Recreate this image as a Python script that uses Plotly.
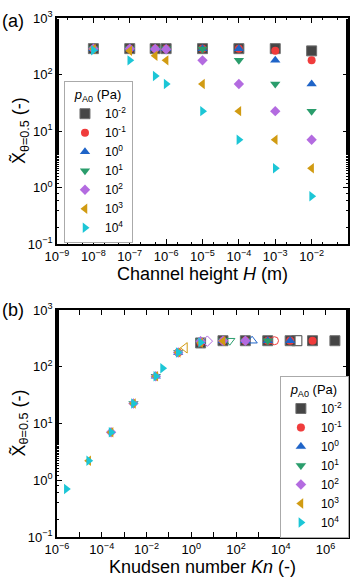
import plotly.graph_objects as go

# ---------------- data ----------------
H_m = [1e-8, 1e-7, 5e-7, 1e-6, 1e-5, 1e-4, 1e-3, 1e-2]

p_labels = ["10<sup>-2</sup>", "10<sup>-1</sup>", "10<sup>0</sup>", "10<sup>1</sup>",
            "10<sup>2</sup>", "10<sup>3</sup>", "10<sup>4</sup>"]

# X~ theta=0.5 for each pressure (same H order)
x_p1e_2 = [287, 287, 287, 287, 287, 287, 287, 262]
x_p1e_1 = [287, 287, 287, 287, 287, 287, 264, 178]
x_p1e0 = [287, 287, 287, 287, 287, 285, 178, 68]
x_p1e1 = [287, 287, 287, 287, 283, 178, 68, 22.5]
x_p1e2 = [287, 287, 282, 280, 178, 68, 22.5, 7.0]
x_p1e3 = [284, 264, 215, 178, 68, 22.5, 7.0, 2.2]
x_p1e4 = [268, 178, 94, 68, 22.5, 7.0, 2.2, 0.70]

# Knudsen number for each pressure (same H order)
kn_p1e_2 = [2.6e6, 2.6e5, 5.2e4, 2.6e4, 2.6e3, 2.6e2, 2.6e1, 2.6]
kn_p1e_1 = [2.6e5, 2.6e4, 5.2e3, 2.6e3, 2.6e2, 2.6e1, 2.6, 2.6e-1]
kn_p1e0 = [2.6e4, 2.6e3, 5.2e2, 2.6e2, 2.6e1, 2.6, 2.6e-1, 2.6e-2]
kn_p1e1 = [2.6e3, 2.6e2, 5.2e1, 2.6e1, 2.6, 2.6e-1, 2.6e-2, 2.6e-3]
kn_p1e2 = [2.6e2, 2.6e1, 5.2, 2.6, 2.6e-1, 2.6e-2, 2.6e-3, 2.6e-4]
kn_p1e3 = [2.6e1, 2.6, 5.2e-1, 2.6e-1, 2.6e-2, 2.6e-3, 2.6e-4, 2.6e-5]
kn_p1e4 = [2.6, 2.6e-1, 5.2e-2, 2.6e-2, 2.6e-3, 2.6e-4, 2.6e-5, 2.6e-6]

x_series = [x_p1e_2, x_p1e_1, x_p1e0, x_p1e1, x_p1e2, x_p1e3, x_p1e4]
kn_series = [kn_p1e_2, kn_p1e_1, kn_p1e0, kn_p1e1, kn_p1e2, kn_p1e3, kn_p1e4]

# ---------------- styles ----------------
colors = ["#454545", "#f03c3c", "#1f64c8", "#2a9d6c", "#b36be0", "#d19b12", "#1cc6d6"]
symbols = ["square", "circle", "triangle-up", "triangle-down", "diamond",
           "triangle-left", "triangle-right"]
sizes = [10, 8, 9, 9, 8, 9, 9]
line_cols = ["#707070", None, None, None, None, None, None]

FONT = "Liberation Sans, Arial, sans-serif"
fig = go.Figure()

for i in range(7):
    lw = 1 if line_cols[i] else 0
    lc = line_cols[i] if line_cols[i] else colors[i]
    fig.add_trace(go.Scatter(
        x=H_m, y=x_series[i], mode="markers", name=p_labels[i],
        marker=dict(symbol=symbols[i], color=colors[i], size=sizes[i],
                    line=dict(width=lw, color=lc)),
        xaxis="x", yaxis="y", legend="legend"))

for i in range(7):
    syms = []
    for h in H_m:
        if h == 5e-7 and i != 6:
            syms.append(symbols[i] + "-open")
        else:
            syms.append(symbols[i])
    lw = [1 if s.endswith("-open") else (1 if line_cols[i] else 0) for s in syms]
    lc = line_cols[i] if line_cols[i] else colors[i]
    fig.add_trace(go.Scatter(
        x=kn_series[i], y=x_series[i], mode="markers", name=p_labels[i],
        marker=dict(symbol=syms, color=colors[i], size=sizes[i],
                    line=dict(width=lw, color=lc)),
        xaxis="x2", yaxis="y2", legend="legend2"))

tickfont = dict(family=FONT, size=13, color="black")
titlefont = dict(family=FONT, size=18, color="black")
common = dict(type="log", showline=True, linecolor="black", linewidth=1.5,
              mirror="ticks", ticks="inside", ticklen=5, tickwidth=1.2,
              tickcolor="black", showgrid=False, zeroline=False,
              tickfont=tickfont, exponentformat="power",
              minor=dict(ticks="inside", ticklen=2.5, tickcolor="black",
                         tickwidth=1, showgrid=False))

yvals = [0.1, 1, 10, 100, 1000]
ytext = ["10<sup>−1</sup>", "10<sup>0</sup>", "10<sup>1</sup>", "10<sup>2</sup>", "10<sup>3</sup>"]
x1vals = [10.0 ** k for k in range(-9, 0)]
x1text = ["10<sup>−%d</sup>" % (-k) for k in range(-9, 0)]
x2vals = [10.0 ** k for k in range(-6, 8)]
x2text = []
for k in range(-6, 8):
    if k % 2 == 0 and k <= 6:
        x2text.append("10<sup>%s</sup>" % (("−%d" % -k) if k < 0 else str(k)))
    else:
        x2text.append("")

ytitle = "X̃<sub>θ=0.5</sub> (-)"

legfont = dict(family=FONT, size=12, color="black")
legcommon = dict(xanchor="left", yanchor="top", bordercolor="#aaaaaa", borderwidth=1,
                 bgcolor="white", font=legfont, tracegroupgap=0, itemwidth=30,
                 title=dict(text="<i>p</i><sub>A0</sub> (Pa)", side="top center",
                            font=dict(family=FONT, size=13, color="black")))

# paper coords: plot area spans y 9..537 px, x 57..348 px
fig.update_layout(
    width=360, height=581,
    margin=dict(l=57, r=12, t=9, b=44),
    paper_bgcolor="white", plot_bgcolor="white",
    font=dict(family=FONT, color="black"),
    showlegend=True,
    xaxis=dict(common, domain=[0, 1], anchor="y", range=[-9, -1],
               tickvals=x1vals, ticktext=x1text,
               title=dict(text="Channel height <i>H</i> (m)", font=titlefont, standoff=4)),
    yaxis=dict(common, domain=[0.5644, 1], anchor="x", range=[-1, 3],
               tickvals=yvals, ticktext=ytext),
    xaxis2=dict(common, domain=[0, 1], anchor="y2", range=[-6, 7],
                tickvals=x2vals, ticktext=x2text,
                title=dict(text="Knudsen number <i>Kn</i> (-)", font=titlefont, standoff=2)),
    yaxis2=dict(common, domain=[0, 0.4375], anchor="x2", range=[-1, 3],
                tickvals=yvals, ticktext=ytext),
    legend=dict(legcommon, x=0.024, y=0.878),
    legend2=dict(legcommon, x=0.766, y=0.31),
    annotations=[
        dict(text="(a)", xref="paper", yref="paper", x=-0.195, y=0.994,
             xanchor="left", yanchor="middle", showarrow=False,
             font=dict(family=FONT, size=18, color="black")),
        dict(text="(b)", xref="paper", yref="paper", x=-0.195, y=0.4375,
             xanchor="left", yanchor="middle", showarrow=False,
             font=dict(family=FONT, size=18, color="black")),
        dict(text=ytitle, xref="paper", yref="paper", x=-0.127, y=0.7822,
             xanchor="center", yanchor="middle", textangle=-90, showarrow=False,
             font=titlefont),
        dict(text=ytitle, xref="paper", yref="paper", x=-0.127, y=0.2188,
             xanchor="center", yanchor="middle", textangle=-90, showarrow=False,
             font=titlefont),
    ],
)

fig.write_html("out.html", config={"displayModeBar": False},
               post_script="document.body.style.margin='0';document.body.style.padding='0';")
